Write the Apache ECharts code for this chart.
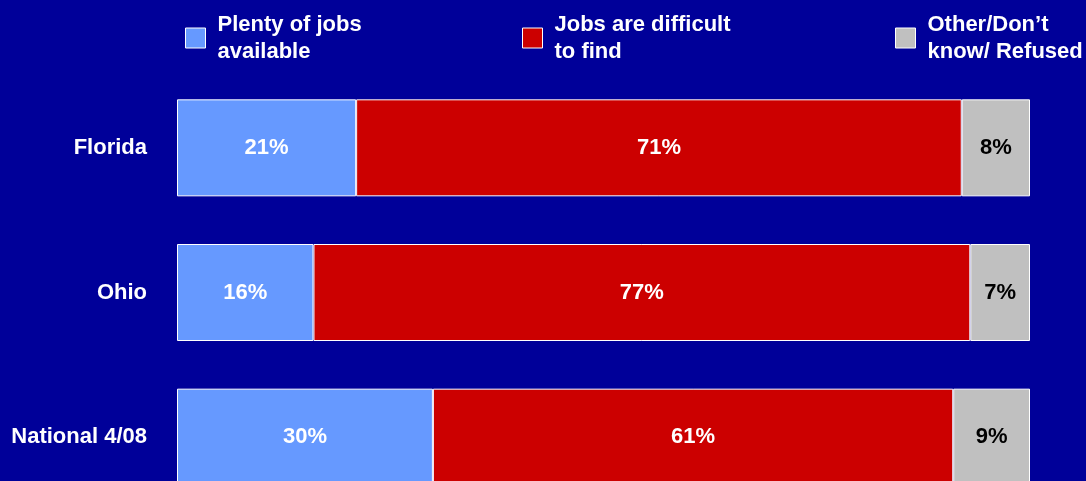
<!DOCTYPE html>
<html>
<head>
<meta charset="utf-8">
<script src="https://cdn.jsdelivr.net/npm/echarts@6/dist/echarts.min.js"></script>
<style>
html,body{margin:0;padding:0;background:#000099;}
#chart{width:1086px;height:481px;}
</style>
</head>
<body>
<div id="chart"></div>
<script>
const categories = ['Florida', 'Ohio', 'National 4/08'];
const seriesNames = ['Plenty of jobs\navailable', 'Jobs are difficult\nto find', 'Other/Don\u2019t\nknow/ Refused'];
const plenty = [21, 16, 30];
const difficult = [71, 77, 61];
const other = [8, 7, 9];

const colors = ['#6699FF', '#CC0000', '#C0C0C0'];
const labelColors = ['#FFFFFF', '#FFFFFF', '#000000'];
const values = [plenty, difficult, other];
const font = '"Liberation Sans", Arial, sans-serif';

const chart = echarts.init(document.getElementById('chart'));
const legendX = [185, 522, 895];
const option = {
  backgroundColor: '#000099',
  animation: false,
  legend: seriesNames.map((n, i) => ({
    data: [n],
    left: legendX[i],
    top: 11,
    padding: 0,
    itemWidth: 20,
    itemHeight: 20,
    itemGap: 0,
    icon: 'rect',
    selectedMode: false,
    textStyle: {color: '#FFFFFF', fontSize: 22, fontWeight: 'bold', fontFamily: font, lineHeight: 27, padding: [0, 0, 0, 7]},
    itemStyle: {borderColor: '#FFFFFF', borderWidth: 1}
  })),
  grid: {left: 177, right: 56, top: 75.5, height: 434, containLabel: false, outerBoundsMode: 'none'},
  xAxis: {type: 'value', min: 0, max: 100, show: false},
  yAxis: {
    type: 'category', data: categories, inverse: true,
    axisLine: {show: false}, axisTick: {show: false},
    axisLabel: {color: '#FFFFFF', fontSize: 22, fontWeight: 'bold', fontFamily: font, margin: 30}
  },
  series: seriesNames.map((n, i) => ({
    name: n, type: 'bar', stack: 'total', barWidth: 97,
    data: values[i],
    itemStyle: {color: colors[i], borderColor: '#FFFFFF', borderWidth: 1},
    label: {show: true, position: 'inside', formatter: '{c}%', color: labelColors[i], fontSize: 22, fontWeight: 'bold', fontFamily: font}
  }))
};
chart.setOption(option);
</script>
</body>
</html>
